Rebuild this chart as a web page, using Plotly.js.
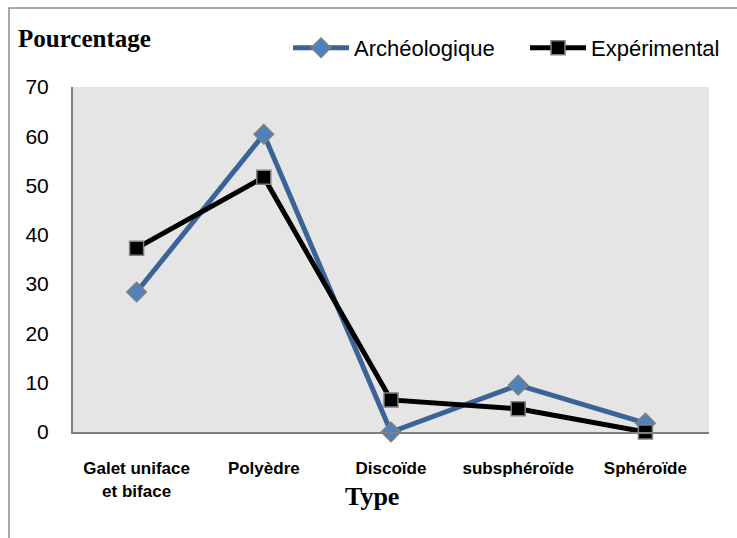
<!DOCTYPE html>
<html><head><meta charset="utf-8">
<script src="https://cdn.plot.ly/plotly-3.0.1.min.js"></script>
<style>html,body{margin:0;padding:0;background:#fff;}#chart{width:737px;height:538px;}</style>
</head><body><div id="chart"></div>
<script>
const categories = ["Galet uniface<br>et biface", "Polyèdre", "Discoïde", "subsphéroïde", "Sphéroïde"];
const archeologique = [28.4, 60.4, 0, 9.5, 1.8];
const experimental = [37.3, 51.7, 6.5, 4.7, 0];
const yTicks = [0, 10, 20, 30, 40, 50, 60, 70];

const traces = [
  {x: categories, y: archeologique, name: "Archéologique", type: "scatter", mode: "lines+markers",
   line: {color: "#3a6497", width: 5},
   marker: {symbol: "diamond", size: 15, color: "#4f81bd", line: {color: "#7f7f7f", width: 1.5}},
   cliponaxis: false, legend: "legend"},
  {x: categories, y: experimental, name: "Expérimental", type: "scatter", mode: "lines+markers",
   line: {color: "#000000", width: 5},
   marker: {symbol: "square", size: 14, color: "#000000", line: {color: "#808080", width: 1.5}},
   cliponaxis: false, legend: "legend2"}
];

const L = 73, R = 709, T = 87, B = 432;
const W = R - L, H = B - T;

const legendFont = {family: "Liberation Sans, Arial, sans-serif", size: 22, color: "#000"};

const layout = {
  width: 737, height: 538,
  margin: {l: L, r: 737 - R, t: T, b: 538 - B},
  paper_bgcolor: "#ffffff",
  plot_bgcolor: "#e5e5e5",
  showlegend: true,
  legend: {orientation: "h", x: (288 - L) / W, xanchor: "left", y: (B - 48) / H, yanchor: "middle",
           font: legendFont, bgcolor: "rgba(0,0,0,0)", itemwidth: 56},
  legend2: {orientation: "h", x: (525 - L) / W, xanchor: "left", y: (B - 48) / H, yanchor: "middle",
           font: legendFont, bgcolor: "rgba(0,0,0,0)", itemwidth: 56},
  xaxis: {type: "category", range: [-0.5, 4.5], showgrid: false, zeroline: false,
          showline: true, linecolor: "#808080", linewidth: 2,
          ticks: "outside", ticklen: 20, tickcolor: "rgba(0,0,0,0)",
          tickfont: {family: "Liberation Sans, Arial, sans-serif", size: 17, color: "#000", weight: "bold"}},
  yaxis: {range: [0, 70], tickvals: yTicks, showgrid: false, zeroline: false,
          showline: true, linecolor: "#808080", linewidth: 2,
          ticks: "outside", ticklen: 18, tickcolor: "rgba(0,0,0,0)",
          tickfont: {family: "Liberation Sans, Arial, sans-serif", size: 21, color: "#000"}},
  annotations: [
    {text: "<b>Pourcentage</b>", xref: "paper", yref: "paper", x: (16 - L) / W, y: (B - 38) / H,
     xanchor: "left", yanchor: "middle", showarrow: false,
     font: {family: "Liberation Serif, Times New Roman, serif", size: 25, color: "#000"}},
    {text: "<b>Type</b>", xref: "paper", yref: "paper", x: (372 - L) / W, y: (B - 496) / H,
     xanchor: "center", yanchor: "middle", showarrow: false,
     font: {family: "Liberation Serif, Times New Roman, serif", size: 26, color: "#000"}}
  ],
  shapes: [
    {type: "rect", xref: "paper", yref: "paper", x0: (9 - L) / W, x1: 1.2, y0: -0.5, y1: (B - 8) / H,
     line: {color: "#8c8c8c", width: 1.5}, fillcolor: "rgba(0,0,0,0)", layer: "below"}
  ]
};

Plotly.newPlot("chart", traces, layout, {displayModeBar: false, staticPlot: true});
</script></body></html>
